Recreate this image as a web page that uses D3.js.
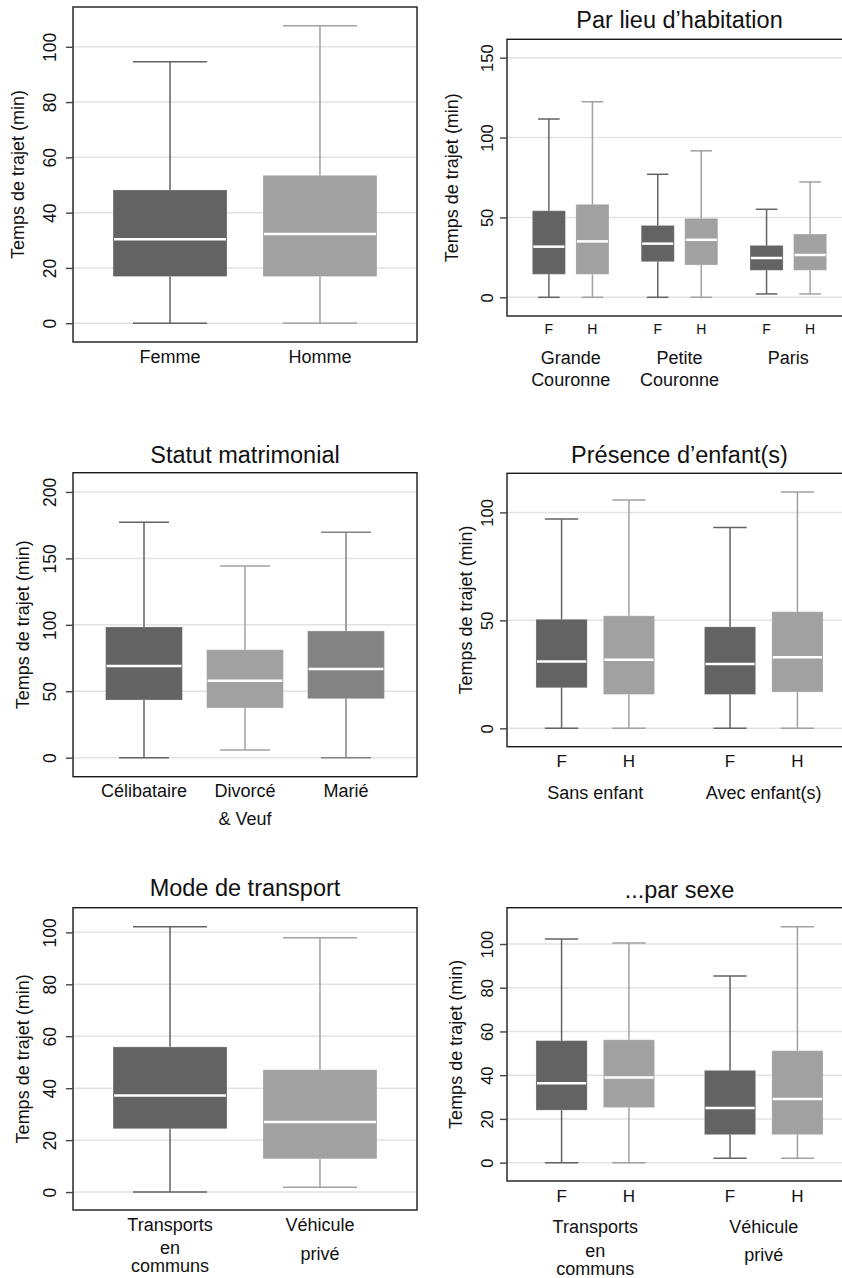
<!DOCTYPE html>
<html>
<head>
<meta charset="utf-8">
<script src="https://cdn.jsdelivr.net/npm/d3@7"></script>
<style>
  body { margin: 0; background: #fff; }
  text { font-family: "Liberation Sans", Arial, sans-serif; fill: #111; }
</style>
</head>
<body>
<div id="chart"></div>
<script>
// stats: [min, q1, median, q3, max]

// Par sexe
const sexeCats = ["Femme", "Homme"];
const sexeStats = [[0, 16.9, 30.4, 48.2, 94.6], [0, 16.9, 32.3, 53.5, 107.6]];
const sexeTicks = [0, 20, 40, 60, 80, 100];

// Par lieu d'habitation
const fhLabels = ["F", "H"];
const lieuGroups = ["Grande\nCouronne", "Petite\nCouronne", "Paris"];
const lieuF = [[0, 14.4, 31.7, 54.2, 111.6], [0, 22.3, 33.6, 45.0, 77.0], [2.1, 16.9, 24.6, 32.5, 55.1]];
const lieuH = [[0, 14.4, 35.0, 58.2, 122.4], [0, 20.2, 36.0, 49.4, 91.7], [2.1, 16.9, 26.5, 39.6, 72.2]];
const lieuTicks = [0, 50, 100, 150];

// Statut matrimonial
const statutCats = ["Célibataire", "Divorcé\n& Veuf", "Marié"];
const statutStats = [[0, 43.4, 69.0, 98.4, 177.2], [5.8, 37.4, 58.0, 81.3, 144.3], [0, 44.4, 66.8, 95.4, 169.7]];
const statutTicks = [0, 50, 100, 150, 200];

// Présence d'enfant(s)
const enfantGroups = ["Sans enfant", "Avec enfant(s)"];
const enfantF = [[0, 18.8, 31.0, 50.5, 96.9], [0, 15.7, 29.8, 47.0, 93.0]];
const enfantH = [[0, 15.7, 31.8, 52.1, 105.7], [0, 16.8, 32.9, 54.0, 109.4]];
const enfantTicks = [0, 50, 100];

// Mode de transport
const modeCats = ["Transports\nen\ncommuns", "Véhicule\nprivé"];
const modeStats = [[0, 24.4, 37.2, 55.9, 102.2], [1.9, 12.8, 27.0, 47.1, 97.9]];
const modeTicks = [0, 20, 40, 60, 80, 100];

// Mode de transport par sexe
const modeF = [[0, 24.0, 36.3, 55.8, 102.3], [2.0, 12.8, 25.0, 42.2, 85.4]];
const modeH = [[0, 25.2, 38.9, 56.2, 100.5], [2.0, 12.8, 29.1, 51.2, 107.9]];

const DARK = "#636363", LIGHT = "#a1a1a1", MID = "#838383";
const yTitle = "Temps de trajet (min)";

const svg = d3.select("#chart").append("svg")
    .attr("width", 842)
    .attr("height", 1278);

function drawPanel(cfg) {
    const g = svg.append("g");
    const y = d3.scaleLinear().domain(cfg.yDomain).range([cfg.bottom, cfg.top]);

    // grid
    g.selectAll(".grid")
        .data(cfg.ticks)
        .join("line")
        .attr("x1", cfg.left).attr("x2", cfg.right)
        .attr("y1", d => y(d)).attr("y2", d => y(d))
        .attr("stroke", "#e2e2e2")
        .attr("stroke-width", 1.5);

    // build the boxes
    let items = [];
    if (cfg.groups) {
        const gx = d3.scalePoint().domain(cfg.groups).range([cfg.left, cfg.right]).padding(cfg.padding);
        const inner = d3.scalePoint().domain(fhLabels).range([-gx.step() * 0.2, gx.step() * 0.2]);
        cfg.groups.forEach((grp, i) => {
            items.push({ x: gx(grp) + inner("F"), s: cfg.fStats[i], c: DARK, sub: "F" });
            items.push({ x: gx(grp) + inner("H"), s: cfg.hStats[i], c: LIGHT, sub: "H" });
        });
        cfg.xPos = gx;
        cfg.spacing = gx.step() * 0.4;
    } else {
        const gx = d3.scalePoint().domain(cfg.cats).range([cfg.left, cfg.right]).padding(cfg.padding);
        cfg.cats.forEach((c, i) => items.push({ x: gx(c), s: cfg.stats[i], c: cfg.colors[i] }));
        cfg.xPos = gx;
        cfg.spacing = gx.step();
    }
    const bw = cfg.spacing * 0.76;
    const cw = bw * 0.65;

    const box = g.selectAll(".box").data(items).join("g");
    box.append("line")
        .attr("x1", d => d.x).attr("x2", d => d.x)
        .attr("y1", d => y(d.s[0])).attr("y2", d => y(d.s[4]))
        .attr("stroke", d => d.c).attr("stroke-width", 1.5);
    box.selectAll(".cap")
        .data(d => [d.s[0], d.s[4]].map(v => ({ x: d.x, v: v, c: d.c })))
        .join("line")
        .attr("x1", d => d.x - cw / 2).attr("x2", d => d.x + cw / 2)
        .attr("y1", d => y(d.v)).attr("y2", d => y(d.v))
        .attr("stroke", d => d.c).attr("stroke-width", 1.5);
    box.append("rect")
        .attr("x", d => d.x - bw / 2)
        .attr("width", bw)
        .attr("y", d => y(d.s[3]))
        .attr("height", d => y(d.s[1]) - y(d.s[3]))
        .attr("fill", d => d.c)
        .attr("stroke", "#fff").attr("stroke-opacity", 0.25).attr("stroke-width", 1);
    box.append("line")
        .attr("x1", d => d.x - bw / 2 + 1).attr("x2", d => d.x + bw / 2 - 1)
        .attr("y1", d => y(d.s[2])).attr("y2", d => y(d.s[2]))
        .attr("stroke", "#fff").attr("stroke-width", 2.5);

    // frame
    g.append("rect")
        .attr("x", cfg.left).attr("y", cfg.top)
        .attr("width", cfg.right - cfg.left).attr("height", cfg.bottom - cfg.top)
        .attr("fill", "none").attr("stroke", "#1a1a1a").attr("stroke-width", 1.4);

    // y axis
    const ax = g.append("g")
        .attr("transform", `translate(${cfg.left},0)`)
        .call(d3.axisLeft(y).tickValues(cfg.ticks).tickSize(7).tickFormat(d3.format("d")));
    ax.select(".domain").remove();
    ax.selectAll(".tick line").attr("stroke", "#444").attr("stroke-width", 1.4);
    ax.selectAll(".tick text")
        .attr("transform", "rotate(-90)")
        .attr("x", 0)
        .attr("y", -cfg.tickOff)
        .attr("dy", "0.35em")
        .attr("text-anchor", "middle")
        .attr("fill", "#111")
        .style("font-size", cfg.tickSize + "px")
        .style("font-family", "'Liberation Sans', Arial, sans-serif");

    // y title
    g.append("text")
        .attr("transform", `translate(${cfg.titleX},${(cfg.top + cfg.bottom) / 2}) rotate(-90)`)
        .attr("text-anchor", "middle")
        .attr("dy", "0.35em")
        .style("font-size", "18px")
        .text(yTitle);

    // panel title
    if (cfg.title) {
        g.append("text")
            .attr("x", (cfg.left + cfg.right) / 2)
            .attr("y", cfg.titleY)
            .attr("text-anchor", "middle")
            .attr("dy", "0.35em")
            .style("font-size", "23.5px")
            .text(cfg.title);
    }

    // sub labels F / H
    if (cfg.groups) {
        g.selectAll(".sub").data(items).join("text")
            .attr("x", d => d.x)
            .attr("y", cfg.bottom + cfg.subDy)
            .attr("dy", "0.35em")
            .attr("text-anchor", "middle")
            .style("font-size", cfg.subSize + "px")
            .text(d => d.sub);
    }

    // category labels
    const cats = cfg.groups || cfg.cats;
    cats.forEach((c, i) => {
        const lines = c.split("\n");
        lines.forEach((ln, j) => {
            g.append("text")
                .attr("x", cfg.xPos(c))
                .attr("y", cfg.bottom + cfg.lineDy[i][j])
                .attr("dy", "0.35em")
                .attr("text-anchor", "middle")
                .style("font-size", "18px")
                .text(ln);
        });
    });
}

drawPanel({
    left: 73, right: 417, top: 7, bottom: 342, yDomain: [-6.8, 114.4],
    ticks: sexeTicks, cats: sexeCats, stats: sexeStats, colors: [DARK, LIGHT],
    padding: 0.647, tickOff: 23, tickSize: 17.5, titleX: 18,
    lineDy: [[15], [15]]
});

drawPanel({
    left: 507, right: 852, top: 39.3, bottom: 316, yDomain: [-11.7, 161.5],
    ticks: lieuTicks, groups: lieuGroups, fStats: lieuF, hStats: lieuH,
    padding: 0.585, tickOff: 20, tickSize: 16.5, titleX: 452,
    title: "Par lieu d\u2019habitation", titleY: 20,
    subDy: 13, subSize: 14, lineDy: [[42, 64], [42, 64], [42]]
});

drawPanel({
    left: 73, right: 417, top: 472.7, bottom: 776.7, yDomain: [-14.3, 214.5],
    ticks: statutTicks, cats: statutCats, stats: statutStats, colors: [DARK, LIGHT, MID],
    padding: 0.703, tickOff: 23, tickSize: 17.5, titleX: 23,
    title: "Statut matrimonial", titleY: 455,
    lineDy: [[14.3], [14.3, 42.3], [14.3]]
});

drawPanel({
    left: 507, right: 852, top: 473.3, bottom: 746.7, yDomain: [-8.5, 118.1],
    ticks: enfantTicks, groups: enfantGroups, fStats: enfantF, hStats: enfantH,
    padding: 0.524, tickOff: 20, tickSize: 16.5, titleX: 466,
    title: "Présence d\u2019enfant(s)", titleY: 455,
    subDy: 14.3, subSize: 17, lineDy: [[46], [46]]
});

drawPanel({
    left: 73, right: 417, top: 907.7, bottom: 1210, yDomain: [-6.9, 109.5],
    ticks: modeTicks, cats: modeCats, stats: modeStats, colors: [DARK, LIGHT],
    padding: 0.647, tickOff: 23, tickSize: 17.5, titleX: 23,
    title: "Mode de transport", titleY: 888,
    lineDy: [[15, 38, 55.5], [15, 43.3]]
});

drawPanel({
    left: 507, right: 852, top: 907.7, bottom: 1181, yDomain: [-8.4, 116.6],
    ticks: modeTicks, groups: modeCats, fStats: modeF, hStats: modeH,
    padding: 0.524, tickOff: 20, tickSize: 16.5, titleX: 456,
    title: "...par sexe", titleY: 890,
    subDy: 15, subSize: 17, lineDy: [[45.7, 70, 87.5], [45.7, 74]]
});
</script>
</body>
</html>
